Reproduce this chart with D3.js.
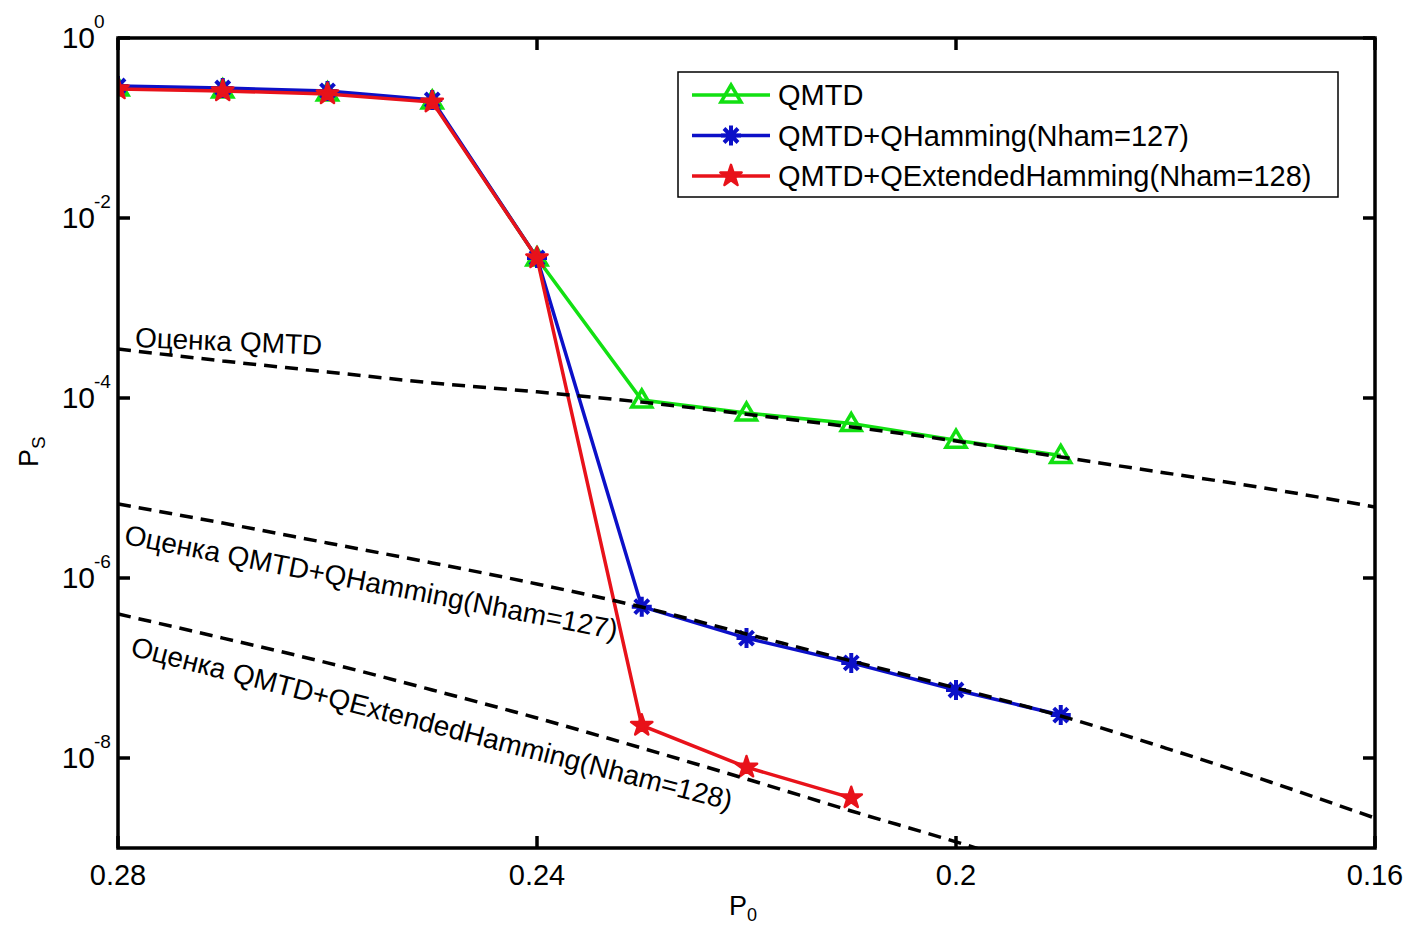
<!DOCTYPE html>
<html>
<head>
<meta charset="utf-8">
<script src="https://cdn.jsdelivr.net/npm/d3@7"></script>
<style>
  body { margin: 0; background: #fff; }
  text { font-family: "Liberation Sans", Arial, sans-serif; fill: #000; }
</style>
</head>
<body>
<div id="container"></div>
<script>
/* CONSTANTS AND GLOBALS */
const width = 1404,
  height = 930,
  margin = { top: 38, right: 29, bottom: 82, left: 118 };

// measured points (P0 goes from 0.28 down to 0.19)
const p0 = [0.28, 0.27, 0.26, 0.25, 0.24, 0.23, 0.22, 0.21, 0.20, 0.19];
const qmtd = [0.278, 0.264, 0.245, 0.199, 3.6e-3, 9.5e-5, 6.8e-5, 5.2e-5, 3.4e-5, 2.3e-5];
const qHamming = [0.293, 0.278, 0.258, 0.205, 3.6e-3, 4.8e-7, 2.15e-7, 1.14e-7, 5.7e-8, 3.0e-8];
const qExtHamming = [0.271, 0.258, 0.239, 0.194, 3.6e-3, 2.3e-8, 7.9e-9, 3.6e-9];

// estimate curves ("Оценка ...")
const estP0 = [0.28, 0.27, 0.26, 0.25, 0.24, 0.23, 0.22, 0.21, 0.20, 0.19, 0.18, 0.17, 0.16];
const estQmtd = [3.5e-4, 2.58e-4, 1.95e-4, 1.47e-4, 1.17e-4, 9.0e-5, 6.6e-5, 4.76e-5, 3.33e-5, 2.21e-5, 1.47e-5, 9.75e-6, 6.15e-6];
const estQHamming = [6.64e-6, 4.08e-6, 2.45e-6, 1.47e-6, 8.58e-7, 4.76e-7, 2.39e-7, 1.2e-7, 6.0e-8, 2.93e-8, 1.29e-8, 5.41e-9, 2.15e-9];
const estQExtHamming = [3.98e-7, 2.15e-7, 1.14e-7, 5.7e-8, 2.78e-8, 1.29e-8, 5.85e-9, 2.58e-9, 1.17e-9, 5.0e-10];

// axis ticks
const xTicks = [0.28, 0.24, 0.2, 0.16];
const xTickLabels = ["0.28", "0.24", "0.2", "0.16"];
const yTicks = [1, 1e-2, 1e-4, 1e-6, 1e-8];
const yTickExps = ["0", "-2", "-4", "-6", "-8"];

const legendNames = ["QMTD", "QMTD+QHamming(Nham=127)", "QMTD+QExtendedHamming(Nham=128)"];
const colors = ["#12e012", "#0c10c8", "#e8121a"];

const svg = d3.select("#container").append("svg")
  .attr("width", width)
  .attr("height", height);

const xScale = d3.scaleLinear()
  .domain([0.28, 0.16])
  .range([margin.left, width - margin.right]);

const yScale = d3.scaleLog()
  .domain([1e-9, 1])
  .range([height - margin.bottom, margin.top]);

const x0 = margin.left, x1 = width - margin.right,
  y0 = margin.top, y1 = height - margin.bottom;

svg.append("clipPath").attr("id", "plotClip")
  .append("rect")
  .attr("x", x0).attr("y", y0)
  .attr("width", x1 - x0).attr("height", y1 - y0);

const plot = svg.append("g").attr("clip-path", "url(#plotClip)");

// + DATA LINES
const series = [
  { name: legendNames[0], vals: qmtd, color: colors[0], marker: "tri" },
  { name: legendNames[1], vals: qHamming, color: colors[1], marker: "ast" },
  { name: legendNames[2], vals: qExtHamming, color: colors[2], marker: "star" }
];

const lineGen = d3.line()
  .x(d => xScale(d[0]))
  .y(d => yScale(d[1]));

function drawMarker(g, type, color) {
  if (type === "tri") {
    g.append("path")
      .attr("d", "M0,-10 L10,7 L-10,7 Z")
      .attr("fill", "none")
      .attr("stroke", color)
      .attr("stroke-width", 3.5);
  } else if (type === "ast") {
    g.append("path")
      .attr("d", "M0,-10 L0,10 M-10,0 L10,0 M-7,-7 L7,7 M-7,7 L7,-7")
      .attr("stroke", color)
      .attr("stroke-width", 4);
  } else {
    g.append("path")
      .attr("d", d3.symbol(d3.symbolStar, 140)())
      .attr("fill", color)
      .attr("stroke", color)
      .attr("stroke-width", 2.5)
      .attr("stroke-linejoin", "round");
  }
}

series.forEach(s => {
  const pts = s.vals.map((v, i) => [p0[i], v]);
  plot.append("path")
    .datum(pts)
    .attr("fill", "none")
    .attr("stroke", s.color)
    .attr("stroke-width", 3.5)
    .attr("d", lineGen);
  pts.forEach(p => {
    const g = plot.append("g")
      .attr("transform", `translate(${xScale(p[0])},${yScale(p[1])})`);
    drawMarker(g, s.marker, s.color);
  });
});

// + ESTIMATE CURVES (dashed)
const curveGen = d3.line()
  .curve(d3.curveMonotoneX)
  .x(d => xScale(d[0]))
  .y(d => yScale(d[1]));

[estQmtd, estQHamming, estQExtHamming].forEach(est => {
  plot.append("path")
    .datum(est.map((v, i) => [estP0[i], v]))
    .attr("fill", "none")
    .attr("stroke", "#000")
    .attr("stroke-width", 3.5)
    .attr("stroke-dasharray", "13,8")
    .attr("d", curveGen);
});

// + ANNOTATIONS
const notes = [
  { text: "Оценка QMTD", p: 0.2784, v: 3.69e-4, rot: 2.4 },
  { text: "Оценка QMTD+QHamming(Nham=127)", p: 0.2795, v: 2.4e-6, rot: 11 },
  { text: "Оценка QMTD+QExtendedHamming(Nham=128)", p: 0.2789, v: 1.39e-7, rot: 14.5 }
];
notes.forEach(n => {
  svg.append("text")
    .attr("transform", `translate(${xScale(n.p)},${yScale(n.v)}) rotate(${n.rot})`)
    .attr("font-size", 28)
    .text(n.text);
});

// + AXES FRAME AND TICKS
svg.append("rect")
  .attr("x", x0).attr("y", y0)
  .attr("width", x1 - x0).attr("height", y1 - y0)
  .attr("fill", "none")
  .attr("stroke", "#000")
  .attr("stroke-width", 3.5);

const tickLen = 12;
xTicks.forEach((t, i) => {
  const x = xScale(t);
  svg.append("line").attr("x1", x).attr("x2", x).attr("y1", y1).attr("y2", y1 - tickLen)
    .attr("stroke", "#000").attr("stroke-width", 3.5);
  svg.append("line").attr("x1", x).attr("x2", x).attr("y1", y0).attr("y2", y0 + tickLen)
    .attr("stroke", "#000").attr("stroke-width", 3.5);
  svg.append("text")
    .attr("x", x).attr("y", y1 + 37)
    .attr("text-anchor", "middle")
    .attr("font-size", 29)
    .text(xTickLabels[i]);
});

yTicks.forEach((t, i) => {
  const y = yScale(t);
  svg.append("line").attr("x1", x0).attr("x2", x0 + tickLen).attr("y1", y).attr("y2", y)
    .attr("stroke", "#000").attr("stroke-width", 3.5);
  svg.append("line").attr("x1", x1).attr("x2", x1 - tickLen).attr("y1", y).attr("y2", y)
    .attr("stroke", "#000").attr("stroke-width", 3.5);
  svg.append("text")
    .attr("x", x0 - 23).attr("y", y + 10)
    .attr("text-anchor", "end")
    .attr("font-size", 30)
    .text("10");
  svg.append("text")
    .attr("x", x0 - 24).attr("y", y - 10)
    .attr("font-size", 19)
    .text(yTickExps[i]);
});

// + AXIS LABELS
const xLab = svg.append("text")
  .attr("x", 729).attr("y", 915)
  .attr("font-size", 27)
  .attr("fill", "#444");
xLab.append("tspan").text("P");
xLab.append("tspan").attr("font-size", 18).attr("dy", 6).text("0");

const yLab = svg.append("text")
  .attr("transform", "translate(38,467) rotate(-90)")
  .attr("font-size", 27)
  .attr("fill", "#444");
yLab.append("tspan").text("P");
yLab.append("tspan").attr("font-size", 19).attr("dy", 7).text("S");

// + LEGEND
const legend = svg.append("g");
legend.append("rect")
  .attr("x", 678).attr("y", 72)
  .attr("width", 660).attr("height", 125)
  .attr("fill", "#fff")
  .attr("stroke", "#000")
  .attr("stroke-width", 1.5);

series.forEach((s, i) => {
  const ly = 95 + i * 40.5;
  legend.append("line")
    .attr("x1", 692).attr("x2", 770)
    .attr("y1", ly).attr("y2", ly)
    .attr("stroke", s.color).attr("stroke-width", 3.5);
  const g = legend.append("g").attr("transform", `translate(731,${ly})`);
  drawMarker(g, s.marker, s.color);
  legend.append("text")
    .attr("x", 778).attr("y", ly + 10)
    .attr("font-size", 29)
    .text(s.name);
});
</script>
</body>
</html>
